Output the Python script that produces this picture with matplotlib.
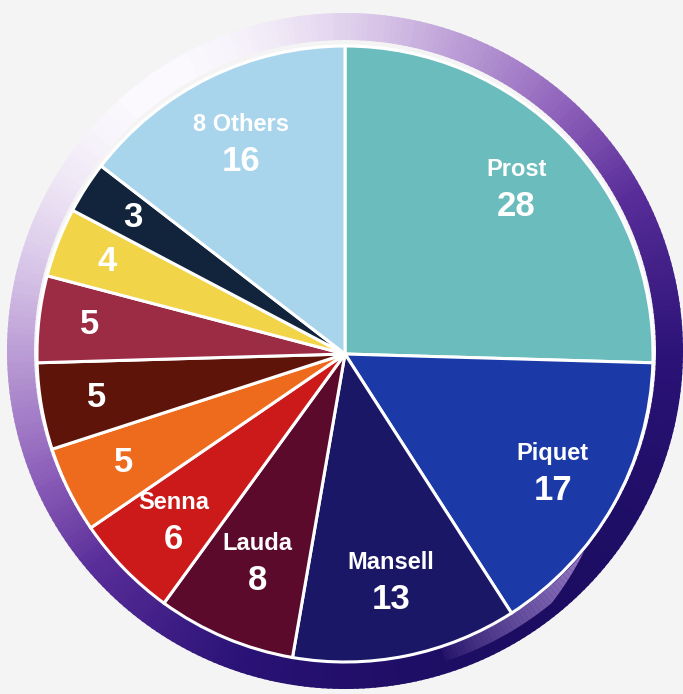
import matplotlib.pyplot as plt
import numpy as np
from matplotlib.patches import Wedge, Polygon
from matplotlib.colors import LinearSegmentedColormap

# data
names = ['Prost', 'Piquet', 'Mansell', 'Lauda', 'Senna', '', '', '', '', '', '8 Others']
wins = [28, 17, 13, 8, 6, 5, 5, 5, 4, 3, 16]
colors = ['#6bbcbd', '#1b3aa8', '#1a1766', '#5c0a2c', '#cc1a1a', '#ee6a1c',
          '#5e1408', '#9c2c44', '#f2d448', '#11243c', '#a9d5ec']
label_r = [0.775, 0.775, 0.75, 0.73, 0.775, 0.80, 0.82, 0.835, 0.83, 0.82, 0.765]

W, H = 683, 694
cx, cy, R = 345, 694 - 354, 308

fig = plt.figure(figsize=(W / 100, H / 100), dpi=100)
fig.patch.set_facecolor('#f4f4f4')
ax = fig.add_axes([0, 0, 1, 1])
ax.set_xlim(0, W)
ax.set_ylim(0, H)
ax.set_aspect('equal')
ax.axis('off')

# gradient ring behind the pie, dark at lower right, light at upper left
ring = LinearSegmentedColormap.from_list(
    'ring', [(0, '#1c0d62'), (0.2, '#2a1276'), (0.45, '#5a2e9a'),
             (0.6, '#8a5cb8'), (0.8, '#bfa2d8'), (0.92, '#e2d4ee'),
             (1, '#fbf9fd')])
rcx, rcy = 345, 694 - 351
n = 360
for i in range(n):
    a0 = i * 360 / n
    a1 = a0 + 360 / n + 0.3
    mid = np.radians((a0 + a1) / 2)
    t = (1 - np.cos(mid - np.radians(-55))) / 2
    ax.add_patch(Wedge((rcx, rcy), 338, a0, a1, width=27,
                       facecolor=ring(t), edgecolor='none'))

# light streak in the ring, lower right
angs = np.linspace(-40, -72, 40)
for k in range(len(angs) - 1):
    a, b = np.radians(angs[k]), np.radians(angs[k + 1])
    fr = k / (len(angs) - 1)
    w1 = 14 * min(1, fr * 3)
    w2 = 14 * min(1, (k + 1) / (len(angs) - 1) * 3)
    pts = [(rcx + 312 * np.cos(a), rcy + 312 * np.sin(a)),
           (rcx + (312 + w1) * np.cos(a), rcy + (312 + w1) * np.sin(a)),
           (rcx + (312 + w2) * np.cos(b), rcy + (312 + w2) * np.sin(b)),
           (rcx + 312 * np.cos(b), rcy + 312 * np.sin(b))]
    ax.add_patch(Polygon(pts, closed=True, facecolor='#a88ad4',
                         edgecolor='none', alpha=0.85 * (1 - fr) ** 0.7))

wedges, _ = ax.pie(wins, colors=colors, startangle=90, counterclock=False,
                   center=(cx, cy), radius=R,
                   wedgeprops=dict(edgecolor='white', linewidth=2.2))
ax.set_xlim(0, W)
ax.set_ylim(0, H)

font = 'Liberation Sans'
for w, name, val, lr in zip(wedges, names, wins, label_r):
    ang = np.radians((w.theta1 + w.theta2) / 2)
    x = cx + lr * R * np.cos(ang)
    y = cy + lr * R * np.sin(ang)
    if name:
        ax.text(x, y + 18, name, ha='center', va='center', color='white',
                fontsize=17, fontweight='bold', family=font)
        ax.text(x, y - 19, str(val), ha='center', va='center', color='white',
                fontsize=25, fontweight='bold', family=font)
    else:
        ax.text(x, y, str(val), ha='center', va='center', color='white',
                fontsize=25, fontweight='bold', family=font)

fig.savefig('out.png', dpi=100, facecolor=fig.get_facecolor())
